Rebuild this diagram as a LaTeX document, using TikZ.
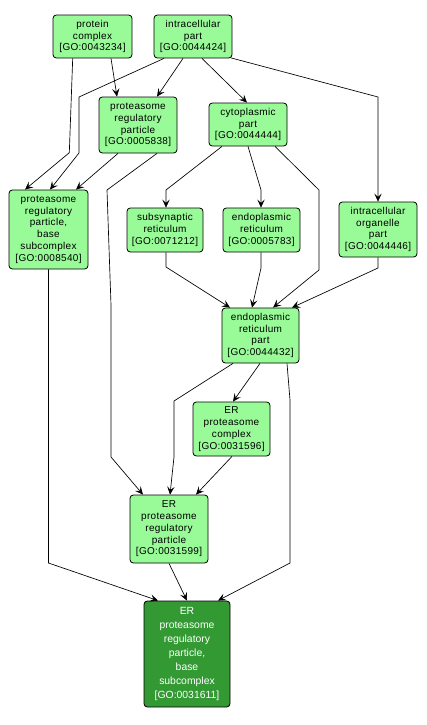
\documentclass[tikz,border=0pt]{standalone}
\usepackage{fontspec}
\setmainfont{Liberation Sans}
\newfontfamily\labfont[LetterSpace=3]{Liberation Sans}
\usetikzlibrary{arrows.meta,calc}
\definecolor{lightgo}{HTML}{98FB98}
\definecolor{darkgo}{HTML}{339933}
\tikzset{
  goterm/.style={draw=black, line width=0.6pt, fill=lightgo, rounded corners=2.5pt,
    inner sep=0pt, align=center, font=\labfont\fontsize{7.5pt}{8.8pt}\selectfont},
  gotarget/.style={draw=black, line width=0.6pt, fill=darkgo, rounded corners=2.5pt,
    inner sep=0pt, align=center, text=white, font=\fontsize{7.8pt}{10.5pt}\selectfont},
  edge/.style={draw=black, line width=0.5pt, -{Stealth[length=6pt,width=5.5pt,inset=2.5pt]}}
}
\begin{document}
\begin{tikzpicture}[x=0.75pt,y=-0.75pt]
\useasboundingbox (0,0) rectangle (427,725);
\node[goterm, minimum width=79*0.75pt, minimum height=43*0.75pt] (pc) at (92.5,36.5) {protein\\complex\\{[GO:0043234]}};
\node[goterm, minimum width=78*0.75pt, minimum height=43*0.75pt] (ip) at (193,36.5) {intracellular\\part\\{[GO:0044424]}};
\node[goterm, minimum width=78*0.75pt, minimum height=56*0.75pt] (prp) at (138,125) {proteasome\\regulatory\\particle\\{[GO:0005838]}};
\node[goterm, minimum width=78*0.75pt, minimum height=43*0.75pt] (cp) at (248,124.5) {cytoplasmic\\part\\{[GO:0044444]}};
\node[goterm, minimum width=79*0.75pt, minimum height=79*0.75pt] (bs) at (48.5,229.5) {proteasome\\regulatory\\particle,\\base\\subcomplex\\{[GO:0008540]}};
\node[goterm, minimum width=76*0.75pt, minimum height=44*0.75pt] (sr) at (165,230) {subsynaptic\\reticulum\\{[GO:0071212]}};
\node[goterm, minimum width=77*0.75pt, minimum height=44*0.75pt] (er) at (261.5,230) {endoplasmic\\reticulum\\{[GO:0005783]}};
\node[goterm, minimum width=78*0.75pt, minimum height=55*0.75pt] (iop) at (378,229.5) {intracellular\\organelle\\part\\{[GO:0044446]}};
\node[goterm, minimum width=77*0.75pt, minimum height=55*0.75pt] (erp) at (260.5,335.5) {endoplasmic\\reticulum\\part\\{[GO:0044432]}};
\node[goterm, minimum width=77*0.75pt, minimum height=54*0.75pt] (erpc) at (231.5,429) {ER\\proteasome\\complex\\{[GO:0031596]}};
\node[goterm, minimum width=78*0.75pt, minimum height=68*0.75pt] (erprp) at (169,529) {ER\\proteasome\\regulatory\\particle\\{[GO:0031599]}};
\node[gotarget, minimum width=86*0.75pt, minimum height=106*0.75pt] (tgt) at (187,654) {ER\\proteasome\\regulatory\\particle,\\base\\subcomplex\\{[GO:0031611]}};

\draw[edge] ($(pc.south)+(-19.8,0)$) -- (69.3,152.7) -- ($(bs.north)+(-23.5,0)$);
\draw[edge] ($(pc.south)+(18.5,0)$) -- ($(prp.north)+(-21,0)$);
\draw[edge] ($(ip.south)+(-29,0)$) -- (79,97) -- (79,153) -- ($(bs.north)+(1.5,0)$);
\draw[edge] ($(ip.south)+(-10,0)$) -- ($(prp.north)+(19,0)$);
\draw[edge] ($(ip.south)+(9,0)$) -- ($(cp.north)+(-1,0)$);
\draw[edge] ($(ip.south)+(38,-0.5)$) -- (378,97) -- (iop.north);
\draw[edge] ($(prp.south)+(-20,0)$) -- ($(bs.north)+(27.5,0)$);
\draw[edge] ($(prp.south)+(19,0)$) -- (107,190) -- (111,305) -- (111,457) -- ($(erprp.north)+(-26,0)$);
\draw[edge] ($(cp.south)+(-26,0)$) -- (166,190) -- ($(sr.north)+(1,0)$);
\draw[edge] (cp.south) -- (261,190) -- ($(er.north)+(-0.5,0)$);
\draw[edge] ($(cp.south)+(27,0)$) -- (319,190) -- (319,270) -- ($(erp.north)+(12.5,0)$);
\draw[edge] ($(sr.south)+(1,0)$) -- (166,267) -- ($(erp.north)+(-30.5,0)$);
\draw[edge] ($(er.south)+(-0.5,0)$) -- (261,268) -- ($(erp.north)+(-8.5,0)$);
\draw[edge] (iop.south) -- (378,268) -- ($(erp.north)+(31.5,0)$);
\draw[edge] ($(erp.south)+(-27.5,0)$) -- (174,401) -- (174,457) -- ($(erprp.north)+(1,0)$);
\draw[edge] ($(erp.south)+(-0.5,0)$) -- ($(erpc.north)+(1.5,0)$);
\draw[edge] ($(erp.south)+(26.5,0)$) -- (290,400) -- (290,563) -- ($(tgt.north)+(31,0)$);
\draw[edge] ($(erpc.south)+(0.5,0)$) -- ($(erprp.north)+(27,0)$);
\draw[edge] (bs.south) -- (48.5,563) -- ($(tgt.north)+(-29,0)$);
\draw[edge] (erprp.south) -- (tgt.north);
\end{tikzpicture}
\end{document}
